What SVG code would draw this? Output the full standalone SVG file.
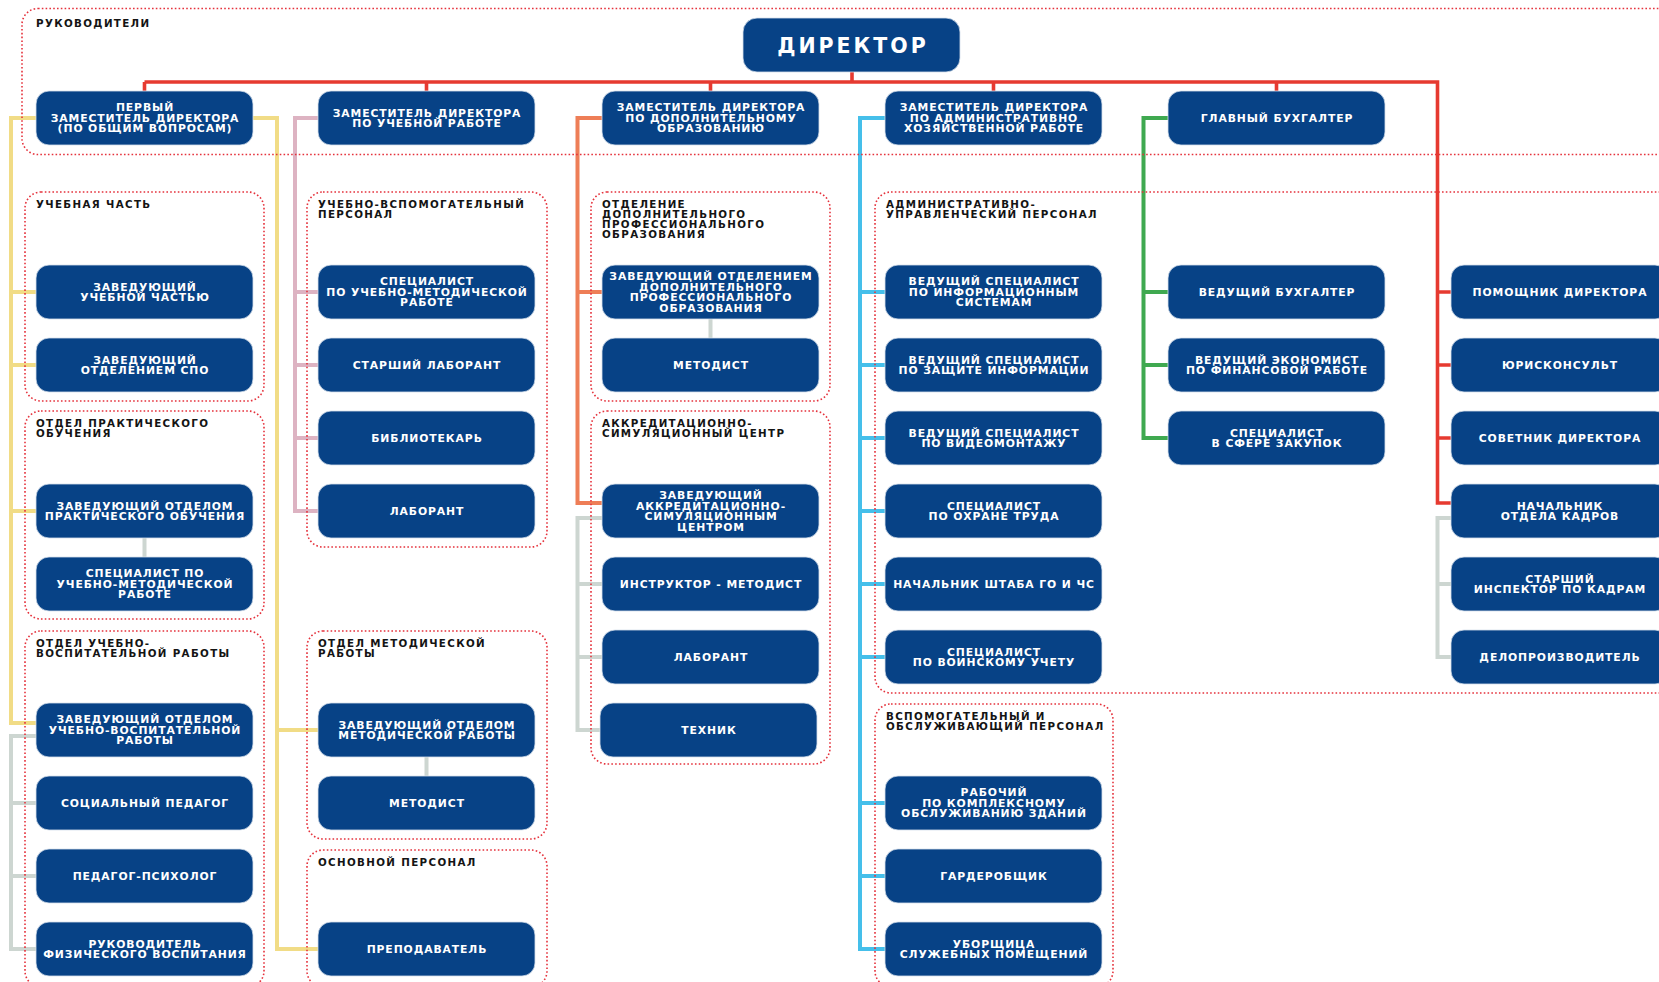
<svg xmlns="http://www.w3.org/2000/svg" width="1659" height="982" viewBox="0 0 1659 982">
<style>
.box{fill:#074286;stroke:#d6dfeb;stroke-width:0.8}
.bt{font-family:"DejaVu Sans",sans-serif;font-weight:bold;font-size:10.8px;letter-spacing:0.9px;fill:#ffffff;text-anchor:middle}
.grp{fill:none;stroke:#E5323C;stroke-width:1.6;stroke-dasharray:1.6 2.2}
.gt{font-family:"DejaVu Sans",sans-serif;font-weight:bold;font-size:10.3px;letter-spacing:1.35px;fill:#141414}
.c{fill:none;stroke-width:4;stroke-linejoin:miter;stroke-linecap:butt}
.red{stroke:#E63A30;stroke-width:3.6}
.yel{stroke:#F1DC86}
.gry{stroke:#CDD6D1}
.pnk{stroke:#DDB3C2}
.org{stroke:#EE7E57}
.blu{stroke:#45BFEA}
.grn{stroke:#3FA950}
</style>
<rect width="1659" height="982" fill="#ffffff"/>

<g id="connectors">
<path class="c red" d="M852,72 V82 M144.5,82 H1437.5 V503 H1451 M144.5,82 V91 M426.5,82 V91 M710.5,82 V91 M993.5,82 V91 M1276.5,82 V91 M1437.5,292 H1451 M1437.5,365 H1451 M1437.5,438 H1451"/>
<path class="c yel" d="M36,118 H11 V723 H36 M11,292 H36 M11,365 H36 M11,511 H36 M253,118 H277 V949 H318 M277,730 H318"/>
<path class="c gry" d="M144.5,538 V557 M36,736 H11 V949 H36 M11,803 H36 M11,876 H36 M426.5,757 V776 M710.5,319 V338 M602,518 H577.5 V730 H600 M577.5,584 H602 M577.5,657 H602 M1451,518 H1437.5 V657 H1451 M1437.5,584 H1451"/>
<path class="c pnk" d="M318,118 H295 V511 H318 M295,292 H318 M295,365 H318 M295,438 H318"/>
<path class="c org" d="M602,118 H577.5 V503 H602 M577.5,292 H602"/>
<path class="c blu" d="M885,118 H860 V949 H885 M860,292 H885 M860,365 H885 M860,438 H885 M860,511 H885 M860,584 H885 M860,657 H885 M860,803 H885 M860,876 H885"/>
<path class="c grn" d="M1168,118 H1143.5 V438 H1168 M1143.5,292 H1168 M1143.5,365 H1168"/>
</g>

<g id="groups">
<g id="g-rukovoditeli"><rect class="grp" x="22" y="8.5" width="1700" height="146" rx="16"/><text class="gt" x="36" y="27">РУКОВОДИТЕЛИ</text></g>
<g id="g-uchebnaya"><rect class="grp" x="25" y="192" width="239" height="209" rx="16"/><text class="gt" x="36" y="207.5">УЧЕБНАЯ ЧАСТЬ</text></g>
<g id="g-prakt"><rect class="grp" x="25" y="411" width="239" height="208" rx="16"/><text class="gt" x="36" y="426.5">ОТДЕЛ ПРАКТИЧЕСКОГО<tspan x="36" dy="10.3">ОБУЧЕНИЯ</tspan></text></g>
<g id="g-uchvosp"><rect class="grp" x="25" y="631" width="239" height="356" rx="16"/><text class="gt" x="36" y="646.5">ОТДЕЛ УЧЕБНО-<tspan x="36" dy="10.3">ВОСПИТАТЕЛЬНОЙ РАБОТЫ</tspan></text></g>
<g id="g-uchvspom"><rect class="grp" x="307" y="192" width="240" height="355" rx="16"/><text class="gt" x="318" y="207.5">УЧЕБНО-ВСПОМОГАТЕЛЬНЫЙ<tspan x="318" dy="10.3">ПЕРСОНАЛ</tspan></text></g>
<g id="g-metod"><rect class="grp" x="307" y="631" width="240" height="208" rx="16"/><text class="gt" x="318" y="646.5">ОТДЕЛ МЕТОДИЧЕСКОЙ<tspan x="318" dy="10.3">РАБОТЫ</tspan></text></g>
<g id="g-osnovnoy"><rect class="grp" x="307" y="850" width="240" height="137" rx="16"/><text class="gt" x="318" y="865.5">ОСНОВНОЙ ПЕРСОНАЛ</text></g>
<g id="g-dpo"><rect class="grp" x="591" y="192" width="239" height="209" rx="16"/><text class="gt" x="602" y="207.5">ОТДЕЛЕНИЕ<tspan x="602" dy="10.3">ДОПОЛНИТЕЛЬНОГО</tspan><tspan x="602" dy="10.3">ПРОФЕССИОНАЛЬНОГО</tspan><tspan x="602" dy="10.3">ОБРАЗОВАНИЯ</tspan></text></g>
<g id="g-akkred"><rect class="grp" x="591" y="411" width="239" height="353" rx="16"/><text class="gt" x="602" y="426.5">АККРЕДИТАЦИОННО-<tspan x="602" dy="10.3">СИМУЛЯЦИОННЫЙ ЦЕНТР</tspan></text></g>
<g id="g-admin"><rect class="grp" x="875" y="192" width="900" height="501" rx="16"/><text class="gt" x="886" y="207.5">АДМИНИСТРАТИВНО-<tspan x="886" dy="10.3">УПРАВЛЕНЧЕСКИЙ ПЕРСОНАЛ</tspan></text></g>
<g id="g-vspom"><rect class="grp" x="875" y="704" width="238" height="283" rx="16"/><text class="gt" x="886" y="719.5">ВСПОМОГАТЕЛЬНЫЙ И<tspan x="886" dy="10.3">ОБСЛУЖИВАЮЩИЙ ПЕРСОНАЛ</tspan></text></g>
</g>

<g id="n-director"><rect class="box" x="743" y="18" width="217" height="54" rx="14"/><text class="bt" x="853" y="52.5" style="font-size:20.5px;letter-spacing:3px">ДИРЕКТОР</text></g>

<g id="n-dep1"><rect class="box" x="36" y="91" width="217" height="54" rx="13"/><text class="bt" x="145" y="111.2">ПЕРВЫЙ<tspan x="145" dy="10.6">ЗАМЕСТИТЕЛЬ ДИРЕКТОРА</tspan><tspan x="145" dy="10.6">(ПО ОБЩИМ ВОПРОСАМ)</tspan></text></g>
<g id="n-dep2"><rect class="box" x="318" y="91" width="217" height="54" rx="13"/><text class="bt" x="427" y="116.5">ЗАМЕСТИТЕЛЬ ДИРЕКТОРА<tspan x="427" dy="10.6">ПО УЧЕБНОЙ РАБОТЕ</tspan></text></g>
<g id="n-dep3"><rect class="box" x="602" y="91" width="217" height="54" rx="13"/><text class="bt" x="711" y="111.2">ЗАМЕСТИТЕЛЬ ДИРЕКТОРА<tspan x="711" dy="10.6">ПО ДОПОЛНИТЕЛЬНОМУ</tspan><tspan x="711" dy="10.6">ОБРАЗОВАНИЮ</tspan></text></g>
<g id="n-dep4"><rect class="box" x="885" y="91" width="217" height="54" rx="13"/><text class="bt" x="994" y="111.2">ЗАМЕСТИТЕЛЬ ДИРЕКТОРА<tspan x="994" dy="10.6">ПО АДМИНИСТРАТИВНО</tspan><tspan x="994" dy="10.6">ХОЗЯЙСТВЕННОЙ РАБОТЕ</tspan></text></g>
<g id="n-glavbuh"><rect class="box" x="1168" y="91" width="217" height="54" rx="13"/><text class="bt" x="1277" y="121.8">ГЛАВНЫЙ БУХГАЛТЕР</text></g>

<g id="n-c1r1"><rect class="box" x="36" y="265" width="217" height="54" rx="13"/><text class="bt" x="145" y="290.5">ЗАВЕДУЮЩИЙ<tspan x="145" dy="10.6">УЧЕБНОЙ ЧАСТЬЮ</tspan></text></g>
<g id="n-c1r2"><rect class="box" x="36" y="338" width="217" height="54" rx="13"/><text class="bt" x="145" y="363.5">ЗАВЕДУЮЩИЙ<tspan x="145" dy="10.6">ОТДЕЛЕНИЕМ СПО</tspan></text></g>
<g id="n-c1r4"><rect class="box" x="36" y="484" width="217" height="54" rx="13"/><text class="bt" x="145" y="509.5">ЗАВЕДУЮЩИЙ ОТДЕЛОМ<tspan x="145" dy="10.6">ПРАКТИЧЕСКОГО ОБУЧЕНИЯ</tspan></text></g>
<g id="n-c1r5"><rect class="box" x="36" y="557" width="217" height="54" rx="13"/><text class="bt" x="145" y="577.2">СПЕЦИАЛИСТ ПО<tspan x="145" dy="10.6">УЧЕБНО-МЕТОДИЧЕСКОЙ</tspan><tspan x="145" dy="10.6">РАБОТЕ</tspan></text></g>
<g id="n-c1r7"><rect class="box" x="36" y="703" width="217" height="54" rx="13"/><text class="bt" x="145" y="723.2">ЗАВЕДУЮЩИЙ ОТДЕЛОМ<tspan x="145" dy="10.6">УЧЕБНО-ВОСПИТАТЕЛЬНОЙ</tspan><tspan x="145" dy="10.6">РАБОТЫ</tspan></text></g>
<g id="n-c1r8"><rect class="box" x="36" y="776" width="217" height="54" rx="13"/><text class="bt" x="145" y="806.8">СОЦИАЛЬНЫЙ ПЕДАГОГ</text></g>
<g id="n-c1r9"><rect class="box" x="36" y="849" width="217" height="54" rx="13"/><text class="bt" x="145" y="879.8">ПЕДАГОГ-ПСИХОЛОГ</text></g>
<g id="n-c1r10"><rect class="box" x="36" y="922" width="217" height="54" rx="13"/><text class="bt" x="145" y="947.5">РУКОВОДИТЕЛЬ<tspan x="145" dy="10.6">ФИЗИЧЕСКОГО ВОСПИТАНИЯ</tspan></text></g>

<g id="n-c2r1"><rect class="box" x="318" y="265" width="217" height="54" rx="13"/><text class="bt" x="427" y="285.2">СПЕЦИАЛИСТ<tspan x="427" dy="10.6">ПО УЧЕБНО-МЕТОДИЧЕСКОЙ</tspan><tspan x="427" dy="10.6">РАБОТЕ</tspan></text></g>
<g id="n-c2r2"><rect class="box" x="318" y="338" width="217" height="54" rx="13"/><text class="bt" x="427" y="368.8">СТАРШИЙ ЛАБОРАНТ</text></g>
<g id="n-c2r3"><rect class="box" x="318" y="411" width="217" height="54" rx="13"/><text class="bt" x="427" y="441.8">БИБЛИОТЕКАРЬ</text></g>
<g id="n-c2r4"><rect class="box" x="318" y="484" width="217" height="54" rx="13"/><text class="bt" x="427" y="514.8">ЛАБОРАНТ</text></g>
<g id="n-c2r7"><rect class="box" x="318" y="703" width="217" height="54" rx="13"/><text class="bt" x="427" y="728.5">ЗАВЕДУЮЩИЙ ОТДЕЛОМ<tspan x="427" dy="10.6">МЕТОДИЧЕСКОЙ РАБОТЫ</tspan></text></g>
<g id="n-c2r8"><rect class="box" x="318" y="776" width="217" height="54" rx="13"/><text class="bt" x="427" y="806.8">МЕТОДИСТ</text></g>
<g id="n-c2r10"><rect class="box" x="318" y="922" width="217" height="54" rx="13"/><text class="bt" x="427" y="952.8">ПРЕПОДАВАТЕЛЬ</text></g>

<g id="n-c3r1"><rect class="box" x="602" y="265" width="217" height="54" rx="13"/><text class="bt" x="711" y="279.9">ЗАВЕДУЮЩИЙ ОТДЕЛЕНИЕМ<tspan x="711" dy="10.6">ДОПОЛНИТЕЛЬНОГО</tspan><tspan x="711" dy="10.6">ПРОФЕССИОНАЛЬНОГО</tspan><tspan x="711" dy="10.6">ОБРАЗОВАНИЯ</tspan></text></g>
<g id="n-c3r2"><rect class="box" x="602" y="338" width="217" height="54" rx="13"/><text class="bt" x="711" y="368.8">МЕТОДИСТ</text></g>
<g id="n-c3r4"><rect class="box" x="602" y="484" width="217" height="54" rx="13"/><text class="bt" x="711" y="498.9">ЗАВЕДУЮЩИЙ<tspan x="711" dy="10.6">АККРЕДИТАЦИОННО-</tspan><tspan x="711" dy="10.6">СИМУЛЯЦИОННЫМ</tspan><tspan x="711" dy="10.6">ЦЕНТРОМ</tspan></text></g>
<g id="n-c3r5"><rect class="box" x="602" y="557" width="217" height="54" rx="13"/><text class="bt" x="711" y="587.8">ИНСТРУКТОР - МЕТОДИСТ</text></g>
<g id="n-c3r6"><rect class="box" x="602" y="630" width="217" height="54" rx="13"/><text class="bt" x="711" y="660.8">ЛАБОРАНТ</text></g>
<g id="n-c3r7"><rect class="box" x="600" y="703" width="217" height="54" rx="13"/><text class="bt" x="709" y="733.8">ТЕХНИК</text></g>

<g id="n-c4r1"><rect class="box" x="885" y="265" width="217" height="54" rx="13"/><text class="bt" x="994" y="285.2">ВЕДУЩИЙ СПЕЦИАЛИСТ<tspan x="994" dy="10.6">ПО ИНФОРМАЦИОННЫМ</tspan><tspan x="994" dy="10.6">СИСТЕМАМ</tspan></text></g>
<g id="n-c4r2"><rect class="box" x="885" y="338" width="217" height="54" rx="13"/><text class="bt" x="994" y="363.5">ВЕДУЩИЙ СПЕЦИАЛИСТ<tspan x="994" dy="10.6">ПО ЗАЩИТЕ ИНФОРМАЦИИ</tspan></text></g>
<g id="n-c4r3"><rect class="box" x="885" y="411" width="217" height="54" rx="13"/><text class="bt" x="994" y="436.5">ВЕДУЩИЙ СПЕЦИАЛИСТ<tspan x="994" dy="10.6">ПО ВИДЕОМОНТАЖУ</tspan></text></g>
<g id="n-c4r4"><rect class="box" x="885" y="484" width="217" height="54" rx="13"/><text class="bt" x="994" y="509.5">СПЕЦИАЛИСТ<tspan x="994" dy="10.6">ПО ОХРАНЕ ТРУДА</tspan></text></g>
<g id="n-c4r5"><rect class="box" x="885" y="557" width="217" height="54" rx="13"/><text class="bt" x="994" y="587.8">НАЧАЛЬНИК ШТАБА ГО И ЧС</text></g>
<g id="n-c4r6"><rect class="box" x="885" y="630" width="217" height="54" rx="13"/><text class="bt" x="994" y="655.5">СПЕЦИАЛИСТ<tspan x="994" dy="10.6">ПО ВОИНСКОМУ УЧЕТУ</tspan></text></g>
<g id="n-c4r8"><rect class="box" x="885" y="776" width="217" height="54" rx="13"/><text class="bt" x="994" y="796.2">РАБОЧИЙ<tspan x="994" dy="10.6">ПО КОМПЛЕКСНОМУ</tspan><tspan x="994" dy="10.6">ОБСЛУЖИВАНИЮ ЗДАНИЙ</tspan></text></g>
<g id="n-c4r9"><rect class="box" x="885" y="849" width="217" height="54" rx="13"/><text class="bt" x="994" y="879.8">ГАРДЕРОБЩИК</text></g>
<g id="n-c4r10"><rect class="box" x="885" y="922" width="217" height="54" rx="13"/><text class="bt" x="994" y="947.5">УБОРЩИЦА<tspan x="994" dy="10.6">СЛУЖЕБНЫХ ПОМЕЩЕНИЙ</tspan></text></g>

<g id="n-c5r1"><rect class="box" x="1168" y="265" width="217" height="54" rx="13"/><text class="bt" x="1277" y="295.8">ВЕДУЩИЙ БУХГАЛТЕР</text></g>
<g id="n-c5r2"><rect class="box" x="1168" y="338" width="217" height="54" rx="13"/><text class="bt" x="1277" y="363.5">ВЕДУЩИЙ ЭКОНОМИСТ<tspan x="1277" dy="10.6">ПО ФИНАНСОВОЙ РАБОТЕ</tspan></text></g>
<g id="n-c5r3"><rect class="box" x="1168" y="411" width="217" height="54" rx="13"/><text class="bt" x="1277" y="436.5">СПЕЦИАЛИСТ<tspan x="1277" dy="10.6">В СФЕРЕ ЗАКУПОК</tspan></text></g>

<g id="n-c6r1"><rect class="box" x="1451" y="265" width="217" height="54" rx="13"/><text class="bt" x="1560" y="295.8">ПОМОЩНИК ДИРЕКТОРА</text></g>
<g id="n-c6r2"><rect class="box" x="1451" y="338" width="217" height="54" rx="13"/><text class="bt" x="1560" y="368.8">ЮРИСКОНСУЛЬТ</text></g>
<g id="n-c6r3"><rect class="box" x="1451" y="411" width="217" height="54" rx="13"/><text class="bt" x="1560" y="441.8">СОВЕТНИК ДИРЕКТОРА</text></g>
<g id="n-c6r4"><rect class="box" x="1451" y="484" width="217" height="54" rx="13"/><text class="bt" x="1560" y="509.5">НАЧАЛЬНИК<tspan x="1560" dy="10.6">ОТДЕЛА КАДРОВ</tspan></text></g>
<g id="n-c6r5"><rect class="box" x="1451" y="557" width="217" height="54" rx="13"/><text class="bt" x="1560" y="582.5">СТАРШИЙ<tspan x="1560" dy="10.6">ИНСПЕКТОР ПО КАДРАМ</tspan></text></g>
<g id="n-c6r6"><rect class="box" x="1451" y="630" width="217" height="54" rx="13"/><text class="bt" x="1560" y="660.8">ДЕЛОПРОИЗВОДИТЕЛЬ</text></g>
</svg>
